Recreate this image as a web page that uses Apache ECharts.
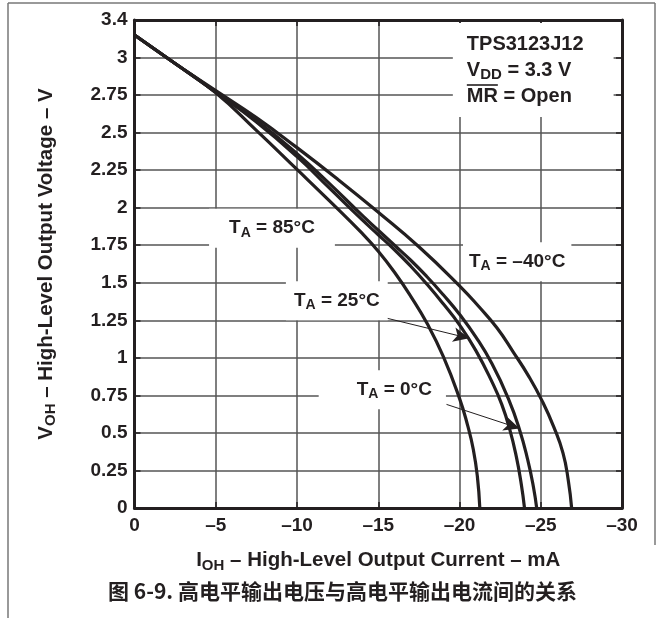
<!DOCTYPE html>
<html>
<head>
<meta charset="utf-8">
<script src="https://cdn.jsdelivr.net/npm/echarts@6/dist/echarts.min.js"></script>
<style>
html,body{margin:0;padding:0;background:#fff}
#main{width:663px;height:618px}
</style>
</head>
<body>
<div id="main"></div>
<script>
// tick labels (the top tick of the datasheet is printed as 3.4)
const xTickLabels = ['0', '–5', '–10', '–15', '–20', '–25', '–30'];
const yTickLabels = ['0', '0.25', '0.5', '0.75', '1', '1.25', '1.5', '1.75', '2', '2.25', '2.5', '2.75', '3', '3.4'];

// I_OH (mA) / V_OH (V)
const cur85  = [0, -2.5, -5, -7.5, -10, -12, -14, -15, -16, -17, -18, -19, -20, -20.5, -20.85, -21.1, -21.25];
const volt85 = [3.15, 2.96, 2.765, 2.515, 2.255, 2.045, 1.83, 1.71, 1.57, 1.41, 1.23, 1.01, 0.73, 0.55, 0.39, 0.21, 0];

const cur25  = [0, -2.5, -5, -7.5, -10, -12, -14, -15, -16, -17, -18, -19, -20, -21, -22, -22.6, -23.1, -23.5, -23.8, -24.0];
const volt25 = [3.15, 2.96, 2.77, 2.57, 2.34, 2.13, 1.92, 1.82, 1.72, 1.61, 1.49, 1.36, 1.22, 1.05, 0.84, 0.69, 0.52, 0.34, 0.16, 0];

const cur0   = [0, -2.5, -5, -7.5, -10, -12, -14, -15, -16, -17, -18, -19, -20, -21, -22, -23, -23.7, -24.2, -24.55, -24.75];
const volt0  = [3.15, 2.96, 2.77, 2.58, 2.36, 2.16, 1.95, 1.85, 1.75, 1.65, 1.54, 1.42, 1.29, 1.14, 0.96, 0.73, 0.52, 0.32, 0.14, 0];

const curM40  = [0, -2.5, -5, -7.5, -10, -12.5, -15, -17.5, -20, -21.2, -22.3, -23.3, -24.3, -25.1, -25.8, -26.37, -26.7, -26.9];
const voltM40 = [3.15, 2.96, 2.78, 2.6, 2.4, 2.19, 1.97, 1.74, 1.48, 1.34, 1.2, 1.04, 0.87, 0.71, 0.54, 0.365, 0.18, 0];

const INK = '#231f20';
const FONT = '"Liberation Sans", Arial, Helvetica, sans-serif';
const rich = {
  t: {fontSize: 19, fontWeight: 'bold', fontFamily: FONT, color: INK},
  s: {fontSize: 14, fontWeight: 'bold', fontFamily: FONT, color: INK, padding: [9, 0, 0, 0]}
};
const richName = {
  t: {fontSize: 20.5, fontWeight: 'bold', fontFamily: FONT, color: INK},
  s: {fontSize: 15, fontWeight: 'bold', fontFamily: FONT, color: INK, padding: [10, 0, 0, 0]}
};
const richBig = {
  t: {fontSize: 20, fontWeight: 'bold', fontFamily: FONT, color: INK, lineHeight: 26},
  s: {fontSize: 15, fontWeight: 'bold', fontFamily: FONT, color: INK, lineHeight: 26, padding: [9, 0, 0, 0]}
};

function curve(name, cur, volt) {
  return {
    name: name,
    type: 'line',
    data: cur.map((c, i) => [c, volt[i]]),
    showSymbol: false,
    smooth: 0.5,
    lineStyle: {color: INK, width: 3.2},
    z: 3
  };
}

function note(coord, text, padding, r, align) {
  return {
    value: coord,
    label: {
      show: true,
      position: 'inside',
      formatter: text,
      backgroundColor: '#fff',
      opacity: 1,
      padding: padding,
      rich: r || rich,
      align: align || 'center',
      verticalAlign: 'middle'
    }
  };
}

const splitStyle = {show: true, lineStyle: {color: '#555', width: 1.5}};
const frameLine = {show: true, onZero: false, lineStyle: {color: INK, width: 3}};
const tick = {show: true, inside: true, length: 6, lineStyle: {color: INK, width: 1.5}};

const tpsAnchor = [-19.59, 2.917];

var myChart = echarts.init(document.getElementById('main'));
var option = {
  animation: false,
  backgroundColor: '#fff',
  title: {
    text: '图 6-9. 高电平输出电压与高电平输出电流间的关系',
    left: 103,
    top: 576,
    textStyle: {fontFamily: '"Noto Sans CJK SC", sans-serif', fontWeight: 'bold', fontSize: 21, color: INK}
  },
  grid: {left: 134.5, right: 41, top: 20, bottom: 110},
  xAxis: [{
    type: 'value',
    min: -30, max: 0, interval: 5,
    inverse: true,
    position: 'bottom',
    axisLine: frameLine,
    axisTick: tick,
    splitLine: splitStyle,
    axisLabel: {
      margin: 8,
      fontSize: 19, fontWeight: 'bold', fontFamily: FONT, color: INK,
      formatter: v => xTickLabels[Math.round(-v / 5)]
    },
    name: '{t|I}{s|OH}{t| – High-Level Output Current – mA}',
    nameLocation: 'middle',
    nameGap: 40,
    nameTextStyle: {rich: richName}
  }, {
    type: 'value',
    min: -30, max: 0, interval: 5,
    inverse: true,
    position: 'top',
    axisLine: frameLine,
    axisTick: tick,
    splitLine: {show: false},
    axisLabel: {show: false}
  }],
  yAxis: [{
    type: 'value',
    min: 0, max: 3.25, interval: 0.25,
    position: 'left',
    axisLine: frameLine,
    axisTick: tick,
    splitLine: splitStyle,
    axisLabel: {
      margin: 7,
      fontSize: 19, fontWeight: 'bold', fontFamily: FONT, color: INK,
      formatter: v => yTickLabels[Math.round(v / 0.25)]
    },
    name: '{t|V}{s|OH}{t| – High-Level Output Voltage – V}',
    nameLocation: 'middle',
    nameGap: 76,
    nameRotate: 90,
    nameTextStyle: {rich: richName}
  }, {
    type: 'value',
    min: 0, max: 3.25, interval: 0.25,
    position: 'right',
    axisLine: frameLine,
    axisTick: tick,
    splitLine: {show: false},
    axisLabel: {show: false}
  }],
  series: [
    curve('85°C', cur85, volt85),
    curve('25°C', cur25, volt25),
    curve('0°C', cur0, volt0),
    curve('-40°C', curM40, voltM40),
    {
      name: 'notes',
      type: 'scatter',
      symbolSize: 0,
      itemStyle: {opacity: 1},
      z: 5,
      silent: true,
      data: [
        note([-8.46, 1.863], '{t|T}{s|A}{t| = 85°C}', [8, 20, 8, 20]),
        note([-12.45, 1.38], '{t|T}{s|A}{t| = 25°C}', [8, 8, 8, 8]),
        note([-15.25, 0.787], '{t|T}{s|A}{t| = 0°C}', [8, 14, 8, 38]),
        note([-23.55, 1.64], '{t|T}{s|A}{t| = –40°C}', [8, 6, 8, 6]),
        note(tpsAnchor, '{t|TPS3123J12}\n{t|V}{s|DD}{t| = 3.3 V}\n{t|MR = Open}', [8, 30, 8, 14], richBig, 'left')
      ],
      markLine: {
        silent: true,
        symbol: ['none', 'arrow'],
        symbolSize: [11, 16],
        label: {show: false},
        lineStyle: {color: INK, width: 1, type: 'solid'},
        data: [
          [{coord: [-15.3, 1.27]}, {coord: [-20.6, 1.13]}],
          [{coord: [-19.2, 0.69]}, {coord: [-23.7, 0.53]}]
        ]
      }
    }
  ]
};
myChart.setOption(option);

// page frame and the overline on MR
var p = myChart.convertToPixel({xAxisIndex: 0, yAxisIndex: 0}, tpsAnchor);
myChart.setOption({
  graphic: [
    {type: 'line', silent: true, shape: {x1: 8, y1: 3, x2: 8, y2: 618}, style: {stroke: '#777', lineWidth: 1.5}},
    {type: 'line', silent: true, shape: {x1: 8, y1: 3, x2: 655, y2: 3}, style: {stroke: '#777', lineWidth: 1.5}},
    {type: 'line', silent: true, shape: {x1: 655, y1: 3, x2: 655, y2: 545}, style: {stroke: '#777', lineWidth: 1.5}},
    {type: 'line', silent: true, z: 100, shape: {x1: p[0] + 14, y1: p[1] + 15, x2: p[0] + 45, y2: p[1] + 15}, style: {stroke: INK, lineWidth: 1.6}}
  ]
});
</script>
</body>
</html>
